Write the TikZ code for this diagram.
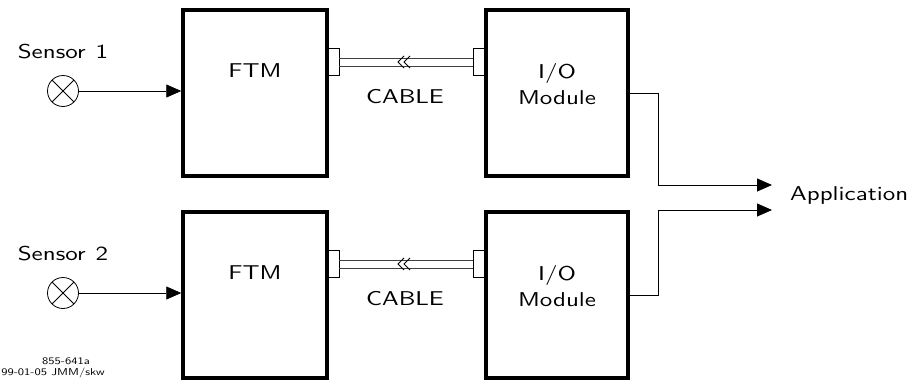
\documentclass[tikz,border=0pt]{standalone}
\usepackage{fontspec}
\newfontfamily\cad[FakeStretch=1.25]{lmsans10-regular.otf}
\usetikzlibrary{arrows.meta}
\begin{document}
\begin{tikzpicture}[x=1pt,y=-1pt,
  box/.style={draw, line width=3.5pt, minimum width=144pt, minimum height=166pt, inner sep=0pt},
  iobox/.style={box, minimum width=142pt},
  plug/.style={draw, line width=0.8pt, fill=white, minimum width=12pt, minimum height=27pt, inner sep=0pt},
  sensor/.style={circle, draw, line width=0.8pt, minimum size=31pt, inner sep=0pt,
    path picture={\draw[line width=0.8pt] (path picture bounding box.north west) -- (path picture bounding box.south east)
      (path picture bounding box.north east) -- (path picture bounding box.south west);}},
  arr/.style={line width=0.8pt, -{Triangle[length=15pt,width=13pt]}},
  wire/.style={line width=0.8pt},
  cable/.style={line width=0.9pt, draw=black!75},
  lbl/.style={font=\cad\fontsize{20}{26}\selectfont, inner sep=0pt, align=center},
  small/.style={font=\cad\fontsize{10}{10}\selectfont, inner sep=0pt}
]
\useasboundingbox (0,0) rectangle (920,383);

% top row
\node[plug] (pl1) at (333,62) {};
\node[plug] (pr1) at (479,62) {};
\node[box] (ftm1) at (255,93) {};
\node[iobox] (io1) at (557,93) {};
\draw[cable] ([yshift=4pt]pl1.east) -- ([yshift=4pt]pr1.west);
\draw[cable] ([yshift=-4pt]pl1.east) -- ([yshift=-4pt]pr1.west);
\draw[wire] (404,56) -- (398,62) -- (404,68) (410,56) -- (404,62) -- (410,68);
\node[sensor] (s1) at (63,91) {};
\draw[arr] (s1.east) -- (s1 -| ftm1.west);
\node[lbl] (t1) at (63,52) {Sensor\enspace 1};
\node[lbl] (f1) at (255,71) {FTM};
\node[lbl] (m1) at (557,84) {I/O\\Module};
\node[lbl] (c1) at (405,97) {CABLE};

% bottom row
\node[plug] (pl2) at (333,264) {};
\node[plug] (pr2) at (479,264) {};
\node[box] (ftm2) at (255,295) {};
\node[iobox] (io2) at (557,295) {};
\draw[cable] ([yshift=4pt]pl2.east) -- ([yshift=4pt]pr2.west);
\draw[cable] ([yshift=-4pt]pl2.east) -- ([yshift=-4pt]pr2.west);
\draw[wire] (404,258) -- (398,264) -- (404,270) (410,258) -- (404,264) -- (410,270);
\node[sensor] (s2) at (63,293) {};
\draw[arr] (s2.east) -- (s2 -| ftm2.west);
\node[lbl] (t2) at (63,254) {Sensor\enspace 2};
\node[lbl] (f2) at (255,273) {FTM};
\node[lbl] (m2) at (557,286) {I/O\\Module};
\node[lbl] (c2) at (405,299) {CABLE};

% outputs
\coordinate (a1) at (772,185);
\coordinate (a2) at (772,210);
\draw[arr] (io1.east) -- ++(29,0) |- (a1);
\draw[arr] (io2.east) -- ++(29,0) |- (a2);
\node[lbl, anchor=west] (app) at (790,195) {Application};

% footer
\node[small] (n1) at (66,361) {855-641a};
\node[small] (n2) at (53,373) {99-01-05 JMM/skw};
\end{tikzpicture}
\end{document}
